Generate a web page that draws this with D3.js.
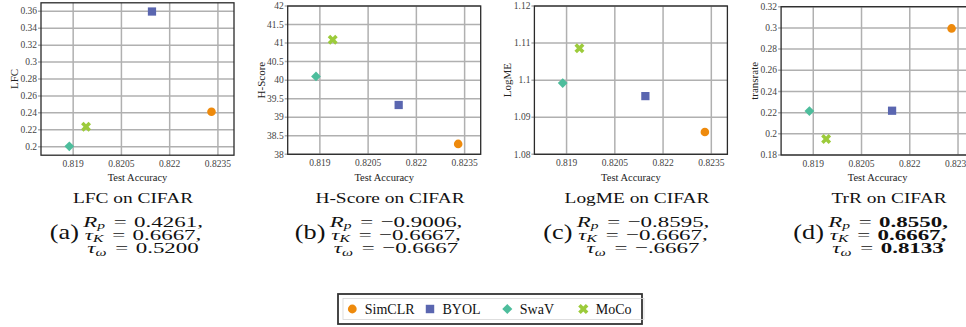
<!DOCTYPE html>
<html lang="en">
<head>
<meta charset="UTF-8">
<script src="https://d3js.org/d3.v7.min.js"></script>
<style>
  body { margin: 0; background: #fff; }
  text { font-family: 'Liberation Serif', 'Times New Roman', Times, 'DejaVu Serif', serif; }
</style>
</head>
<body>
<div id="chart"></div>
<script>
// data
const methods = ["SimCLR", "BYOL", "SwaV", "MoCo"];
const testAccuracy = [0.8233, 0.82145, 0.81888, 0.8194];
const lfc = [0.2414, 0.3597, 0.2005, 0.2237];
const hScore = [38.28, 39.33, 40.10, 41.09];
const logME = [1.0860, 1.0957, 1.0992, 1.1086];
const transrate = [0.2995, 0.2218, 0.2215, 0.1951];

const metricLabels = ["LFC", "H-Score", "LogME", "transrate"];
const captionTitles = ["LFC on CIFAR", "H-Score on CIFAR", "LogME on CIFAR", "TrR on CIFAR"];
const subLabels = ["(a)", "(b)", "(c)", "(d)"];
const rpValues = ["0.4261,", "\u22120.9006,", "\u22120.8595,", "0.8550,"];
const tauKValues = ["0.6667,", "\u22120.6667,", "\u22120.6667,", "0.6667,"];
const tauWValues = ["0.5200", "\u22120.6667", "\u2212.6667", "0.8133"];

const xTicks = [0.819, 0.8205, 0.822, 0.8235];
const xDomain = [0.818, 0.824];
const yDomains = [[0.19, 0.37], [38, 42], [1.08, 1.12], [0.18, 0.32]];
const yTicks = [
  [0.2, 0.22, 0.24, 0.26, 0.28, 0.3, 0.32, 0.34, 0.36],
  [38, 38.5, 39, 39.5, 40, 40.5, 41, 41.5, 42],
  [1.08, 1.09, 1.1, 1.11, 1.12],
  [0.18, 0.2, 0.22, 0.24, 0.26, 0.28, 0.3, 0.32]
];
const series = [lfc, hScore, logME, transrate];

const colors = ["#ee8a0c", "#5a66b0", "#4dbd9c", "#9ccb3b"];
const shapes = [d3.symbolCircle, d3.symbolSquare, d3.symbolSquare, d3.symbolCross];
const shapeSize = [58, 68, 48, 62];
const shapeRot = [0, 0, 45, 45];

const width = 966, height = 327;
const panelW = 193;
const panelTops = [2.8, 6, 6, 6.7];
const panelBottoms = [155.2, 154.3, 154.3, 155];
const titleCenters = [133, 390, 637, 889];
const mathCenters = [143, 396, 643, 888];
const serif = "'Liberation Serif', 'Times New Roman', Times, 'DejaVu Serif', serif";

const svg = d3.select("#chart").append("svg")
  .attr("width", width).attr("height", height)
  .attr("font-family", serif);

const fmt = d => String(+d.toFixed(4));

series.forEach((vals, i) => {
  const left = 41 + i * 246.7;
  const x = d3.scaleLinear().domain(xDomain).range([left, left + panelW]);
  const y = d3.scaleLinear().domain(yDomains[i]).range([panelBottoms[i], panelTops[i]]);
  const g = svg.append("g");

  // grid
  g.selectAll(".vg").data(xTicks).enter().append("line")
    .attr("x1", d => x(d)).attr("x2", d => x(d))
    .attr("y1", y.range()[0]).attr("y2", y.range()[1])
    .attr("stroke", "#b0b0b0").attr("stroke-width", 1.5);
  g.selectAll(".hg").data(yTicks[i]).enter().append("line")
    .attr("x1", left - 3).attr("x2", left + panelW)
    .attr("y1", d => y(d)).attr("y2", d => y(d))
    .attr("stroke", "#b0b0b0").attr("stroke-width", 1.5);

  // frame
  g.append("rect")
    .attr("x", left).attr("y", y.range()[1])
    .attr("width", panelW).attr("height", y.range()[0] - y.range()[1])
    .attr("fill", "none").attr("stroke", "#2a2a2a").attr("stroke-width", 1.3);

  // tick labels
  g.selectAll(".xt").data(xTicks).enter().append("text")
    .attr("x", d => x(d)).attr("y", panelBottoms[i] + 11.5)
    .attr("text-anchor", "middle").attr("font-size", 9.5).attr("fill", "#444")
    .text(fmt);
  g.selectAll(".yt").data(yTicks[i]).enter().append("text")
    .attr("x", left - 4).attr("y", d => y(d) + 3.2)
    .attr("text-anchor", "end").attr("font-size", 9.5).attr("fill", "#444")
    .text(fmt);

  // axis titles
  g.append("text")
    .attr("transform", `translate(${left - 23},${(panelTops[i] + panelBottoms[i]) / 2}) rotate(-90)`)
    .attr("text-anchor", "middle").attr("font-size", 11).attr("fill", "#222")
    .text(metricLabels[i]);
  g.append("text")
    .attr("x", left + panelW / 2).attr("y", 180.5)
    .attr("text-anchor", "middle").attr("font-size", 10.5).attr("fill", "#222")
    .text("Test Accuracy");

  // points
  g.selectAll(".pt").data(vals).enter().append("path")
    .attr("d", (d, k) => d3.symbol().type(shapes[k]).size(shapeSize[k])())
    .attr("transform", (d, k) => `translate(${x(testAccuracy[k])},${y(d)}) rotate(${shapeRot[k]})`)
    .attr("fill", (d, k) => colors[k]);

  // caption (the figure's caption text is stretched sideways)
  svg.append("text")
    .attr("transform", `translate(${titleCenters[i]},202.7) scale(1.25,1)`)
    .attr("text-anchor", "middle").attr("font-size", 15.5).attr("fill", "#111")
    .text(captionTitles[i]);

  const bold = i === 3;
  const rows = [["R", "p", rpValues[i]], ["\u03c4", "K", tauKValues[i]], ["\u03c4", "\u03c9", tauWValues[i]]];
  const block = svg.append("g");
  rows.forEach((r, j) => {
    const t = block.append("text")
      .attr("transform", `translate(${mathCenters[i]},${226.5 + j * 13.3}) scale(1.48,1)`)
      .attr("text-anchor", "middle").attr("font-size", 15.5).attr("fill", "#111");
    t.append("tspan").attr("font-style", "italic").text(r[0]);
    t.append("tspan").attr("font-style", "italic").attr("font-size", 10.5).attr("dy", 2.5).text(r[1]);
    t.append("tspan").attr("dy", -2.5).attr("dx", 6).text("=");
    t.append("tspan").attr("dx", 5).attr("font-weight", bold ? "bold" : null).text(r[2]);
  });
  const bb = block.node().getBBox();
  svg.append("text")
    .attr("transform", `translate(${bb.x - 3},239) scale(1.25,1)`)
    .attr("text-anchor", "end").attr("font-size", 21).attr("fill", "#111")
    .text(subLabels[i]);
});

// legend
const lg = svg.append("g");
lg.append("rect").attr("x", 338).attr("y", 294).attr("width", 304).attr("height", 30)
  .attr("fill", "#fff").attr("stroke", "#333").attr("stroke-width", 1.8);
lg.append("rect").attr("x", 343).attr("y", 298.5).attr("width", 301).attr("height", 21)
  .attr("fill", "none").attr("stroke", "#d6d6d6").attr("stroke-width", 0.8);
const legendX = [352.3, 430, 507.3, 583.3];
methods.forEach((m, k) => {
  lg.append("path")
    .attr("d", d3.symbol().type(shapes[k]).size(shapeSize[k] * 1.05)())
    .attr("transform", `translate(${legendX[k]},309) rotate(${shapeRot[k]})`)
    .attr("fill", colors[k]);
  lg.append("text").attr("x", legendX[k] + 12.5).attr("y", 314)
    .attr("font-size", 14).attr("fill", "#111").text(m);
});
</script>
</body>
</html>
